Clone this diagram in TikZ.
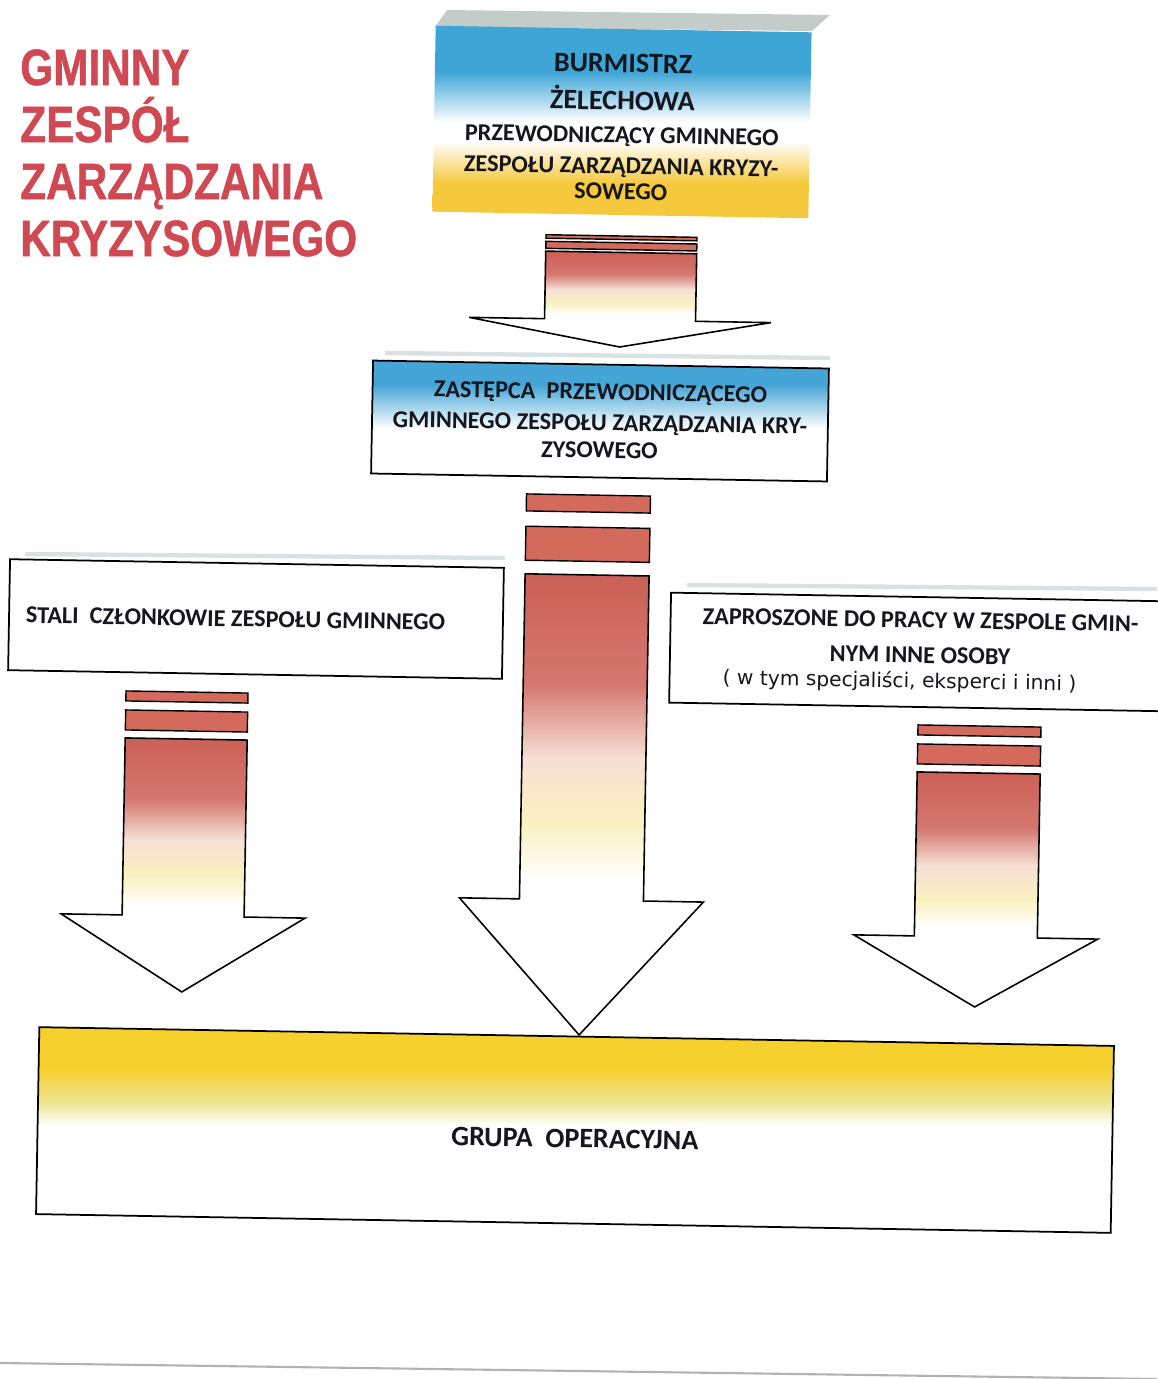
\documentclass[tikz,border=0pt]{standalone}
\usepackage{fontspec}
\setmainfont{Carlito}
\newfontfamily\titlefont{Liberation Sans Bold}[FakeStretch=0.83,FakeBold=1]
\newfontfamily\notefont{DejaVu Sans}
\definecolor{titlered}{RGB}{208,72,82}
\definecolor{burmblue}{RGB}{62,165,215}
\definecolor{burmyellow}{RGB}{246,200,60}
\definecolor{zastblue}{RGB}{70,165,215}
\definecolor{grupayellow}{RGB}{246,208,45}
\definecolor{grupamid}{RGB}{236,228,140}
\definecolor{arrowred}{RGB}{204,96,86}
\definecolor{barred}{RGB}{212,106,92}
\definecolor{paleyellow}{RGB}{250,240,190}
\definecolor{pinkwhite}{RGB}{246,224,214}
\definecolor{specklegray}{RGB}{218,225,226}
\definecolor{topgray}{RGB}{196,204,202}
\definecolor{inkblack}{RGB}{22,22,30}
\pgfdeclareverticalshading{burmshade}{100bp}{color(0bp)=(burmyellow); color(34bp)=(burmyellow); color(45bp)=(white); color(50bp)=(white); color(63bp)=(burmblue); color(100bp)=(burmblue)}
\pgfdeclareverticalshading{zastshade}{100bp}{color(0bp)=(white); color(47bp)=(white); color(65bp)=(zastblue); color(100bp)=(zastblue)}
\pgfdeclareverticalshading{grupashade}{100bp}{color(0bp)=(white); color(51bp)=(white); color(57bp)=(grupamid); color(65bp)=(grupayellow); color(100bp)=(grupayellow)}
\pgfdeclareverticalshading{arrowshade}{100bp}{color(0bp)=(white); color(42bp)=(white); color(48bp)=(paleyellow); color(55bp)=(pinkwhite); color(63bp)=(arrowred!85); color(75bp)=(arrowred); color(100bp)=(arrowred)}
\begin{document}
\begin{tikzpicture}[x=0.02cm,y=-0.02cm,line join=miter]
	\tikzset{
		title/.style={anchor=base west,inner sep=0pt,text=titlered,font=\titlefont\fontsize{29}{32}\selectfont},
		box/.style={draw,line width=1pt,rotate=-1,inner sep=0pt,text=inkblack,align=center,font=\bfseries\fontsize{13.8}{14}\selectfont},
		bar/.style={draw,line width=0.8pt,fill=barred},
		body/.style={draw,line width=0.9pt,shading=arrowshade},
		speckle/.style={line width=2.5pt,specklegray}
	}
	\useasboundingbox (0,0) rectangle (1157,1379);
	\foreach \t [count=\i] in {GMINNY,ZESPÓŁ,ZARZĄDZANIA,KRYZYSOWEGO}
		\node[title] (title\i) at (20,{28+57*\i}) {\t};
	\fill[topgray] (447,10) -- (830,15) -- (812,31) -- (435,27) -- cycle;
	\node[box,draw=none,shade,shading=burmshade,minimum width=7.52cm,minimum height=3.72cm] (burm) at (622,122) {{}\\[2pt]
		{\fontsize{16}{16}\selectfont BURMISTRZ}\\[7.4pt]
		{\fontsize{16}{16}\selectfont ŻELECHOWA}\\[4.8pt]
		PRZEWODNICZĄCY GMINNEGO\\[3.6pt]
		ZESPOŁU ZARZĄDZANIA KRYZY-\\[0.6pt]
		SOWEGO};
	\draw[speckle] (385,353) -- (830,358);
	\node[box,shade,shading=zastshade,minimum width=9.12cm,minimum height=2.26cm] (zast) at (600,421) {ZASTĘPCA\ \ PRZEWODNICZĄCEGO\\[3.6pt]
		GMINNEGO ZESPOŁU ZARZĄDZANIA KRY-\\[1.6pt]
		ZYSOWEGO};
	\draw[speckle] (25,554) -- (505,558);
	\node[box,align=flush left,fill=white,minimum width=9.88cm,minimum height=2.22cm,text width=9.2cm] (stali) at (256,619) {STALI\ \ CZŁONKOWIE ZESPOŁU GMINNEGO};
	\draw[speckle] (687,585) -- (1157,589);
	\node[box,fill=white,minimum width=10cm,minimum height=2.2cm] (zapr) at (920,652) {ZAPROSZONE DO PRACY W ZESPOLE GMIN-\\[6pt]
		NYM INNE OSOBY\\[0.2pt]
		{\notefont\mdseries\fontsize{11.5}{12}\selectfont ( w tym specjaliści, eksperci i inni )\hspace*{0.8cm}}};
	\foreach \cx/\hw/\yt/\u/\yw/\wh/\yp in {621.5/75.5/236/3.5/320/151/347, 187/61/692/10/916/122/992, 588.5/62/495/17/900/122/1035, 979.5/61.5/726/10/937/122/1007}{
		\begin{scope}[rotate around={-1:(\cx,\yt)}]
			\draw[bar] (\cx-\hw,\yt) rectangle (\cx+\hw,\yt+\u);
			\draw[bar] (\cx-\hw,\yt+1.9*\u) rectangle (\cx+\hw,\yt+3.9*\u);
			\shadedraw[body] (\cx-\hw,\yt+4.7*\u) -- (\cx+\hw,\yt+4.7*\u) -- (\cx+\hw,\yw) -- (\cx+\wh,\yw) -- (\cx,\yp) -- (\cx-\wh,\yw) -- (\cx-\hw,\yw) -- cycle;
		\end{scope}
	}
	\node[box,shade,shading=grupashade,minimum width=21.5cm,minimum height=3.74cm,text height=20pt,text depth=0pt,font=\bfseries\fontsize{16}{16}\selectfont] (grupa) at (575,1130) {GRUPA\ \ OPERACYJNA};
	\draw[line width=1.2pt,gray!60] (0,1363) -- (1157,1379);
\end{tikzpicture}
\end{document}
